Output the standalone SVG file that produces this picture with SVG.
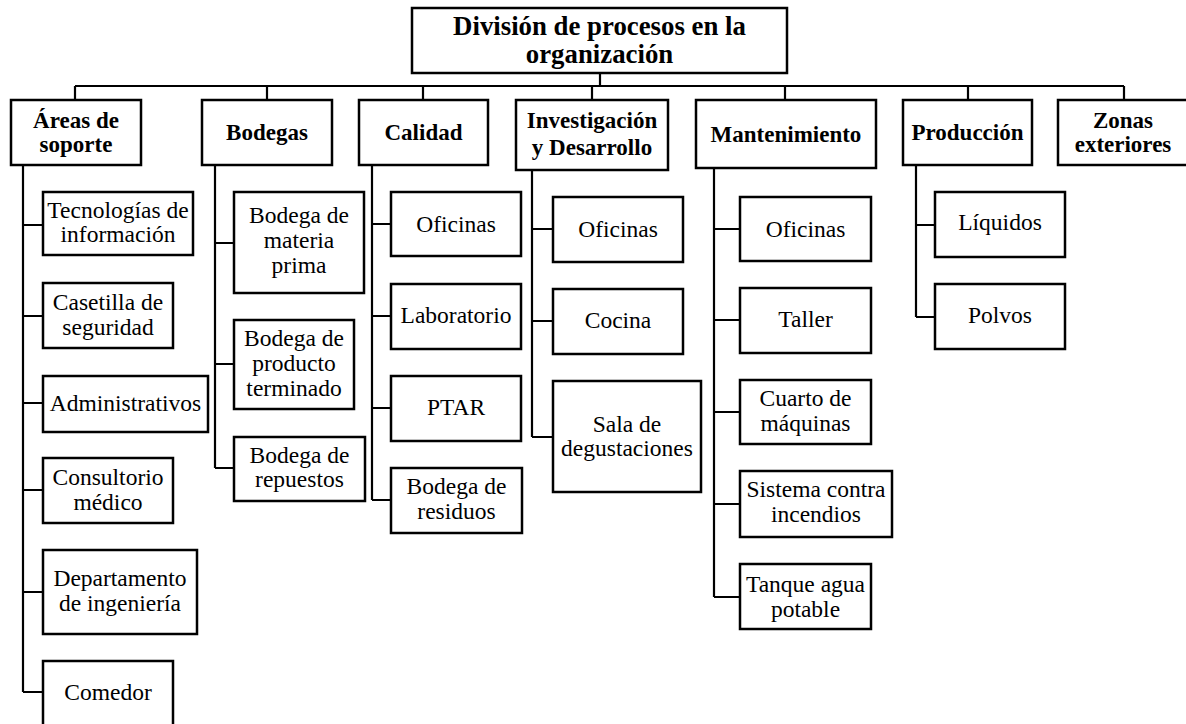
<svg xmlns="http://www.w3.org/2000/svg" width="1186" height="724" viewBox="0 0 1186 724" font-family="Liberation Serif, Times New Roman, DejaVu Serif, serif">
<style>
.box{fill:#fff;stroke:#000;stroke-width:2.5}
.ln{fill:none;stroke:#000;stroke-width:2.2}
text{font-size:23.5px;text-anchor:middle;fill:#000}
.b{font-weight:bold;font-size:23px}
.title{font-size:26.8px;font-weight:bold}
</style>
<rect width="1186" height="724" fill="#fff"/>
<g id="connectors" class="ln">
<path d="M600,73V86M75,86H1124M75,86V100M267,86V100M423,86V100M592,86V100M785,86V100M968,86V100M1124,86V100"/>
<path d="M23,165V692M23,225H43M23,316H43M23,403H43M23,490H43M23,592H43M23,692H43"/>
<path d="M215,165V468M215,243H234M215,364H234M215,468H234"/>
<path d="M372,165V500M372,224H391M372,316H391M372,408H391M372,500H391"/>
<path d="M532,170V437M532,229H553M532,321H553M532,437H553"/>
<path d="M714,168V597M714,229H740M714,320H740M714,412H740M714,504H740M714,597H740"/>
<path d="M916,165V317M916,225H935M916,317H935"/>
</g>
<g id="root"><rect class="box" x="412" y="8" width="375" height="65"/><text class="title" x="599.5" y="35">División de procesos en la<tspan x="599.5" y="63">organización</tspan></text></g>
<g id="areas"><rect class="box" x="11" y="100" width="130" height="65"/><text class="b" x="76" y="128">Áreas de<tspan x="76" y="152">soporte</tspan></text></g>
<g id="bodegas"><rect class="box" x="202" y="100" width="130" height="65"/><text class="b" x="267" y="140">Bodegas</text></g>
<g id="calidad"><rect class="box" x="359" y="100" width="129" height="65"/><text class="b" x="423.5" y="140">Calidad</text></g>
<g id="id"><rect class="box" x="516" y="100" width="152" height="70"/><text class="b" x="592" y="128">Investigación<tspan x="592" y="155">y Desarrollo</tspan></text></g>
<g id="mant"><rect class="box" x="696" y="100" width="180" height="68"/><text class="b" x="786" y="142">Mantenimiento</text></g>
<g id="prod"><rect class="box" x="903" y="100" width="129" height="65"/><text class="b" x="967.5" y="140">Producción</text></g>
<g id="zonas"><rect class="box" x="1058" y="100" width="140" height="65"/><text class="b" x="1123" y="128">Zonas<tspan x="1123" y="152">exteriores</tspan></text></g>

<g id="a1"><rect class="box" x="43" y="192" width="150" height="63"/><text x="118" y="218">Tecnologías de<tspan x="118" y="242">información</tspan></text></g>
<g id="a2"><rect class="box" x="43" y="283" width="130" height="65"/><text x="108" y="310">Casetilla de<tspan x="108" y="335">seguridad</tspan></text></g>
<g id="a3"><rect class="box" x="43" y="376" width="165" height="56"/><text x="125.5" y="411">Administrativos</text></g>
<g id="a4"><rect class="box" x="43" y="458" width="130" height="65"/><text x="108" y="485">Consultorio<tspan x="108" y="510">médico</tspan></text></g>
<g id="a5"><rect class="box" x="43" y="550" width="154" height="84"/><text x="120" y="586">Departamento<tspan x="120" y="611">de ingeniería</tspan></text></g>
<g id="a6"><rect class="box" x="43" y="661" width="130" height="75"/><text x="108" y="700">Comedor</text></g>

<g id="b1"><rect class="box" x="234" y="192" width="130" height="101"/><text x="299" y="223">Bodega de<tspan x="299" y="248">materia</tspan><tspan x="299" y="273">prima</tspan></text></g>
<g id="b2"><rect class="box" x="234" y="320" width="120" height="89"/><text x="294" y="346">Bodega de<tspan x="294" y="371">producto</tspan><tspan x="294" y="396">terminado</tspan></text></g>
<g id="b3"><rect class="box" x="234" y="437" width="131" height="64"/><text x="299.5" y="463">Bodega de<tspan x="299.5" y="487">repuestos</tspan></text></g>

<g id="c1"><rect class="box" x="391" y="192" width="130" height="64"/><text x="456" y="232">Oficinas</text></g>
<g id="c2"><rect class="box" x="391" y="284" width="130" height="65"/><text x="456" y="323">Laboratorio</text></g>
<g id="c3"><rect class="box" x="391" y="376" width="130" height="65"/><text x="456" y="415">PTAR</text></g>
<g id="c4"><rect class="box" x="391" y="468" width="131" height="65"/><text x="456.5" y="494">Bodega de<tspan x="456.5" y="519">residuos</tspan></text></g>

<g id="i1"><rect class="box" x="553" y="197" width="130" height="65"/><text x="618" y="237">Oficinas</text></g>
<g id="i2"><rect class="box" x="553" y="289" width="130" height="65"/><text x="618" y="328">Cocina</text></g>
<g id="i3"><rect class="box" x="553" y="381" width="148" height="111"/><text x="627" y="432">Sala de<tspan x="627" y="456">degustaciones</tspan></text></g>

<g id="m1"><rect class="box" x="740" y="197" width="131" height="64"/><text x="805.5" y="237">Oficinas</text></g>
<g id="m2"><rect class="box" x="740" y="288" width="131" height="65"/><text x="805.5" y="327">Taller</text></g>
<g id="m3"><rect class="box" x="740" y="380" width="131" height="64"/><text x="805.5" y="406">Cuarto de<tspan x="805.5" y="431">máquinas</tspan></text></g>
<g id="m4"><rect class="box" x="740" y="471" width="152" height="66"/><text x="816" y="497">Sistema contra<tspan x="816" y="522">incendios</tspan></text></g>
<g id="m5"><rect class="box" x="740" y="564" width="131" height="65"/><text x="805.5" y="592">Tanque agua<tspan x="805.5" y="617">potable</tspan></text></g>

<g id="p1"><rect class="box" x="935" y="192" width="130" height="65"/><text x="1000" y="230">Líquidos</text></g>
<g id="p2"><rect class="box" x="935" y="284" width="130" height="65"/><text x="1000" y="323">Polvos</text></g>
</svg>
